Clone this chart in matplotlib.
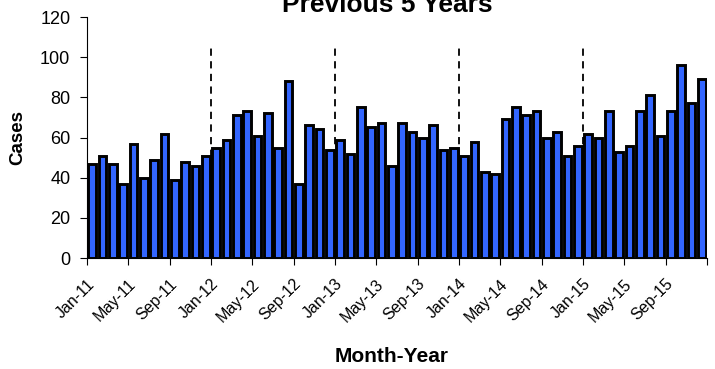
import matplotlib
matplotlib.use("Agg")
import matplotlib.pyplot as plt
import numpy as np

plt.rcParams['font.family'] = ['Liberation Sans', 'DejaVu Sans']

# monthly cases Jan-11 .. Dec-15
c2011 = [47, 51, 47, 37, 57, 40, 49, 62, 39, 48, 46, 51]
c2012 = [55, 59, 71, 73, 61, 72, 55, 88, 37, 66, 64, 54]
c2013 = [59, 52, 75, 65, 67, 46, 67, 63, 60, 66, 54, 55]
c2014 = [51, 58, 43, 42, 69, 75, 71, 73, 60, 63, 51, 56]
c2015 = [62, 60, 73, 53, 56, 73, 81, 61, 73, 96, 77, 89]
casos = c2011 + c2012 + c2013 + c2014 + c2015

meses = ['Jan', 'Feb', 'Mar', 'Apr', 'May', 'Jun', 'Jul', 'Aug', 'Sep', 'Oct', 'Nov', 'Dec']
anios = ['11', '12', '13', '14', '15']
etiquetas = [m + '-' + a for a in anios for m in meses]

fig = plt.figure(figsize=(7.15, 3.69), dpi=100)
ax = fig.add_axes([0.1217, 0.3008, 0.867, 0.653])

x = np.arange(len(casos))
ax.bar(x, casos, 0.74, color='#3366ff', edgecolor='black', linewidth=2.1, zorder=2)

# separadores de año (detras de las barras)
for i in range(1, len(anios)):
    ax.plot([12 * i - 0.5, 12 * i - 0.5], [0, 105], color='black', ls=(0, (4, 3)), lw=1.3, zorder=1)

ax.set_xlim(-0.5, len(casos) - 0.5)
ax.set_ylim(0, 120)
ax.set_yticks(range(0, 121, 20))
ax.tick_params(axis='y', labelsize=13, direction='out', length=5, width=0.8, pad=7)

ax.set_xticks(x[::4])
ax.set_xticklabels(etiquetas[::4], rotation=45, ha='right', va='center',
                   rotation_mode='anchor', fontsize=11.5)
ax.tick_params(axis='x', which='major', length=0, pad=17)
ax.set_xticks(np.arange(-0.5, len(casos), 4), minor=True)
ax.tick_params(axis='x', which='minor', length=5, width=0.8, direction='out')

for s in ['top', 'right']:
    ax.spines[s].set_visible(False)
ax.spines['left'].set_linewidth(0.8)
ax.spines['bottom'].set_linewidth(0.8)

fig.text(0.025, 0.627, 'Cases', rotation=90, ha='center', va='center', fontsize=13.5, fontweight='bold')
fig.text(0.548, 1 - 362 / 369, 'Month-Year', ha='center', va='baseline', fontsize=15, fontweight='bold')
fig.text(0.542, 1 - 12 / 369, 'Previous 5 Years', ha='center', va='baseline', fontsize=19, fontweight='bold')

fig.savefig('out.png', dpi=100)
